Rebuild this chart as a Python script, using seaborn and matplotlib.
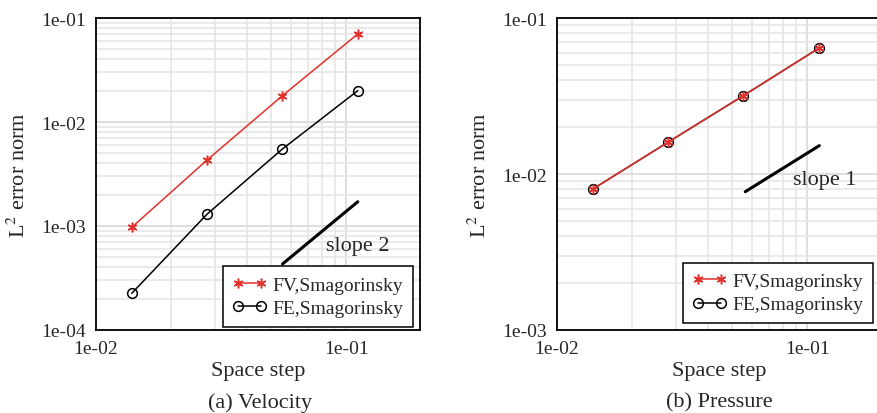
import numpy as np
import pandas as pd
import matplotlib
matplotlib.use("Agg")
import matplotlib.pyplot as plt
import seaborn as sns
from matplotlib.ticker import FixedLocator, FuncFormatter, LogLocator

# space steps (h = 1/72, 1/36, 1/18, 1/9)
space_step = [0.01389, 0.02778, 0.05556, 0.1111]

# velocity errors
vel_fv = [0.00097, 0.00431, 0.0179, 0.0702]
vel_fe = [0.000225, 0.0013, 0.0055, 0.0200]

# pressure errors
pre_fv = [0.0080, 0.0160, 0.0318, 0.0640]
pre_fe = [0.0080, 0.0160, 0.0318, 0.0640]

# reference slope segments
slope2_x = [0.0556, 0.1111]
slope2_y = [0.000431, 0.00171]
slope1_x = [0.0565, 0.1117]
slope1_y = [0.0077, 0.0152]

sns.set_style("white")
plt.rcParams['font.family'] = ['Liberation Serif', 'DejaVu Serif']
plt.rcParams['mathtext.fontset'] = 'stix'

RED = '#e3302a'
W, H = 877, 414
fig = plt.figure(figsize=(W / 100, H / 100), dpi=100)


def make_axes(left, ylim, slope_x, slope_y, slope_txt, txt_xy, leg_anchor):
    ax = fig.add_axes([left / W, 1 - 331 / H, 324 / W, 312 / H])
    df_fe = pd.DataFrame({'h': space_step, 'err': ylim[2]})
    df_fv = pd.DataFrame({'h': space_step, 'err': ylim[3]})
    sns.lineplot(data=df_fe, x='h', y='err', ax=ax, color='black', lw=1.1,
                 marker='o', markersize=7, markerfacecolor='none',
                 markeredgecolor='black', markeredgewidth=1.1,
                 label='FE,Smagorinsky', zorder=3)
    sns.lineplot(data=df_fv, x='h', y='err', ax=ax, color=RED, lw=1.1,
                 marker=(6, 2, 0), markersize=7, markeredgecolor=RED,
                 markeredgewidth=1.1, label='FV,Smagorinsky', zorder=4)
    ax.plot(slope_x, slope_y, color='black', lw=2.2, zorder=3)
    ax.text(txt_xy[0], txt_xy[1], slope_txt, fontsize=16, va='center', ha='left')

    ax.set_xscale('log')
    ax.set_yscale('log')
    ax.set_xlim(0.01, 0.197)
    ax.set_ylim(ylim[0], ylim[1])
    ax.xaxis.set_major_locator(FixedLocator([0.01, 0.1]))
    ax.yaxis.set_major_locator(LogLocator(base=10))
    ax.xaxis.set_minor_locator(LogLocator(base=10, subs=np.arange(2, 10)))
    ax.yaxis.set_minor_locator(LogLocator(base=10, subs=np.arange(2, 10)))
    fmt = FuncFormatter(lambda v, p: f"{v:.0e}")
    ax.xaxis.set_major_formatter(fmt)
    ax.yaxis.set_major_formatter(fmt)
    ax.tick_params(which='both', length=0, labelsize=14, pad=7)
    ax.grid(True, which='major', color='#dedede', lw=1.4)
    ax.grid(True, which='minor', color='#e6e6e6', lw=1.2)
    for s in ax.spines.values():
        s.set_color('black')
        s.set_linewidth(1.3)
        s.set_zorder(5)

    ax.set_xlabel('Space step', fontsize=16, labelpad=3)
    ax.set_ylabel('L$^2$ error norm', fontsize=16)
    ax.yaxis.set_label_coords(-0.205, 0.5)

    h, l = ax.get_legend_handles_labels()
    leg = ax.legend(h[::-1], l[::-1], loc='lower right', bbox_to_anchor=leg_anchor,
                    borderaxespad=0, fontsize=14, frameon=True, fancybox=False,
                    framealpha=1, edgecolor='black', handlelength=1.8,
                    handletextpad=0.25, labelspacing=0.3, borderpad=0.5,
                    numpoints=2)
    leg.get_frame().set_linewidth(1.1)
    leg.set_zorder(6)
    return ax


make_axes(96, (1e-4, 1e-1, vel_fe, vel_fv), slope2_x, slope2_y, 'slope 2',
          (0.0832, 0.000656), (0.978, 0.01))
make_axes(557, (1e-3, 1e-1, pre_fe, pre_fv), slope1_x, slope1_y, 'slope 1',
          (0.0879, 0.00916), (0.975, 0.022))

fig.text(260 / W, 1 - 403 / H, '(a) Velocity', fontsize=16, ha='center', va='center')
fig.text(719 / W, 1 - 403 / H, '(b) Pressure', fontsize=16, ha='center', va='center')

fig.savefig('out.png', dpi=100)
